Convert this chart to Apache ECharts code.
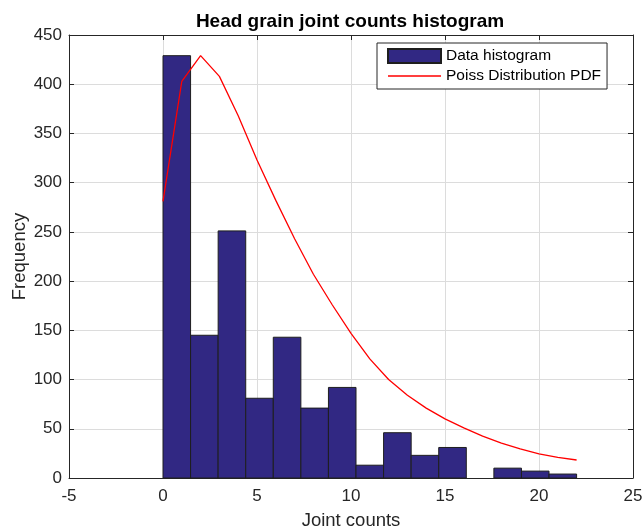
<!DOCTYPE html>
<html>
<head>
<meta charset="utf-8">
<script src="https://cdn.jsdelivr.net/npm/echarts@6/dist/echarts.min.js"></script>
<style>
html,body{margin:0;padding:0;background:#fff;}
#chart{width:643px;height:532px;}
</style>
</head>
<body>
<div id="chart"></div>
<script>
// Histogram bin edges (0..22 split into 15 bins) and counts
var binEdges = [0, 1.4667, 2.9333, 4.4, 5.8667, 7.3333, 8.8, 10.2667, 11.7333, 13.2, 14.6667, 16.1333, 17.6, 19.0667, 20.5333, 22];
var binCounts = [429, 145, 251, 81, 143, 71, 92, 13, 46, 23, 31, 0, 10, 7, 4];
// Poisson PDF curve (scaled), sampled at integer joint counts
var pdfX = [0, 1, 2, 3, 4, 5, 6, 7, 8, 9, 10, 11, 12, 13, 14, 15, 16, 17, 18, 19, 20, 21, 22];
var pdfY = [281, 403, 429, 408, 368, 323, 282, 243, 207, 176, 147, 121, 100, 84, 71, 60, 51, 42.5, 35.5, 29.5, 24.6, 21, 18.3];
var xTicks = [-5, 0, 5, 10, 15, 20, 25];
var yTicks = [0, 50, 100, 150, 200, 250, 300, 350, 400, 450];

var histData = [];
for (var i = 0; i < binCounts.length; i++) {
  histData.push([binEdges[i], binEdges[i + 1], binCounts[i]]);
}
var lineData = pdfX.map(function (x, i) { return [x, pdfY[i]]; });

var axisColor = '#262626';
var gridColor = '#dcdcdc';
var barColor = '#312883';
var font = 'Liberation Sans, Arial, Helvetica, sans-serif';
var lineIcon = 'path://M0,0 L0.05,0 L0,0.05 Z M0,6.3 L53,6.3 L53,7.7 L0,7.7 Z M53,14 L52.95,14 L53,13.95 Z';

var chart = echarts.init(document.getElementById('chart'), null, {renderer: 'canvas'});
var option = {
  backgroundColor: '#ffffff',
  animation: false,
  title: {
    text: 'Head grain joint counts histogram',
    left: 345,
    textAlign: 'center',
    top: 7,
    textStyle: {fontFamily: font, fontSize: 19, fontWeight: 'bold', color: '#000'}
  },
  legend: {
    orient: 'vertical',
    left: 377,
    top: 43,
    padding: [5, 6, 5, 10],
    itemWidth: 53,
    itemHeight: 14,
    itemGap: 4,
    borderColor: axisColor,
    borderWidth: 1,
    backgroundColor: '#fff',
    textStyle: {fontFamily: font, fontSize: 15.5, color: '#000'},
    data: [
      {name: 'Data histogram', icon: 'rect'},
      {name: 'Poiss Distribution PDF', icon: lineIcon, itemStyle: {color: '#ff0000', borderWidth: 0}}
    ]
  },
  grid: {left: 69, right: 10, top: 35, bottom: 54, containLabel: false, outerBoundsMode: 'none'},
  xAxis: [{
    type: 'value', min: xTicks[0], max: xTicks[xTicks.length - 1], interval: 5,
    position: 'bottom',
    name: 'Joint counts', nameLocation: 'middle', nameGap: 33, nameMoveOverlap: false,
    nameTextStyle: {fontFamily: font, fontSize: 18.5, color: axisColor},
    axisLine: {show: true, onZero: false, lineStyle: {color: axisColor, width: 1}},
    axisTick: {show: true, inside: true, length: 5, lineStyle: {color: axisColor}},
    axisLabel: {fontFamily: font, fontSize: 17, color: axisColor, margin: 10},
    splitLine: {show: true, lineStyle: {color: gridColor, width: 1}}
  }, {
    type: 'value', min: xTicks[0], max: xTicks[xTicks.length - 1], interval: 5,
    position: 'top',
    axisLine: {show: true, onZero: false, lineStyle: {color: axisColor, width: 1}},
    axisTick: {show: true, inside: true, length: 5, lineStyle: {color: axisColor}},
    axisLabel: {show: false},
    splitLine: {show: false}
  }],
  yAxis: [{
    type: 'value', min: yTicks[0], max: yTicks[yTicks.length - 1], interval: 50,
    position: 'left',
    name: 'Frequency', nameLocation: 'middle', nameGap: 40, nameMoveOverlap: false,
    nameTextStyle: {fontFamily: font, fontSize: 18.5, color: axisColor},
    axisLine: {show: true, onZero: false, lineStyle: {color: axisColor, width: 1}},
    axisTick: {show: true, inside: true, length: 5, lineStyle: {color: axisColor}},
    axisLabel: {fontFamily: font, fontSize: 17, color: axisColor, margin: 7},
    splitLine: {show: true, lineStyle: {color: gridColor, width: 1}}
  }, {
    type: 'value', min: yTicks[0], max: yTicks[yTicks.length - 1], interval: 50,
    position: 'right',
    axisLine: {show: true, onZero: false, lineStyle: {color: axisColor, width: 1}},
    axisTick: {show: true, inside: true, length: 5, lineStyle: {color: axisColor}},
    axisLabel: {show: false},
    splitLine: {show: false}
  }],
  series: [{
    name: 'Data histogram',
    type: 'custom',
    xAxisIndex: 0,
    yAxisIndex: 0,
    itemStyle: {color: barColor, borderColor: '#1e1e1e', borderWidth: 1},
    encode: {x: [0, 1], y: 2},
    data: histData,
    renderItem: function (params, api) {
      var x0 = api.value(0), x1 = api.value(1), v = api.value(2);
      if (!v) return null;
      var p0 = api.coord([x0, v]);
      var p1 = api.coord([x1, 0]);
      return {
        type: 'rect',
        shape: {x: p0[0], y: p0[1], width: p1[0] - p0[0], height: p1[1] - p0[1]},
        style: {fill: barColor, stroke: '#1e1e1e', lineWidth: 1}
      };
    }
  }, {
    name: 'Poiss Distribution PDF',
    type: 'line',
    xAxisIndex: 0,
    yAxisIndex: 0,
    symbol: 'none',
    lineStyle: {color: '#ff0000', width: 1.3},
    itemStyle: {color: '#ff0000'},
    data: lineData,
    z: 5
  }]
};
chart.setOption(option);
</script>
</body>
</html>
